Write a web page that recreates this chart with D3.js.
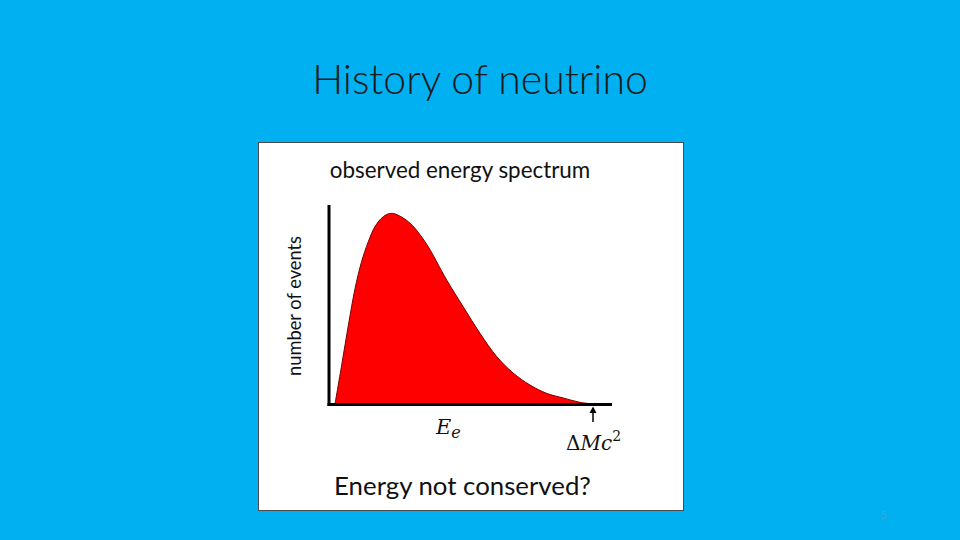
<!DOCTYPE html>
<html>
<head>
<meta charset="utf-8">
<script src="https://d3js.org/d3.v7.min.js"></script>
<style>
  body { margin: 0; background: #00B0F0; }
  svg { display: block; }
</style>
</head>
<body>
<div id="slide"></div>
<script>
// spectrum: energy as fraction of the endpoint, counts normalised to the peak
var energy = [0, 0.026, 0.052, 0.078, 0.103, 0.129, 0.155, 0.187, 0.220, 0.284, 0.349, 0.433, 0.497, 0.562, 0.627, 0.690, 0.756, 0.821, 0.884, 0.949, 1.0];
var counts = [0, 0.206, 0.417, 0.611, 0.751, 0.856, 0.936, 0.988, 1.006, 0.962, 0.856, 0.654, 0.513, 0.373, 0.250, 0.164, 0.100, 0.056, 0.032, 0.009, 0];

var title = "History of neutrino";
var chartTitle = "observed energy spectrum";
var yLabel = "number of events";
var caption = "Energy not conserved?";
var endpoint = 1.0;   // ΔMc²

var svg = d3.select('#slide')
            .append('svg')
            .attr('width', 960)
            .attr('height', 540);

svg.append('rect')
   .attr('width', 960).attr('height', 540)
   .attr('fill', '#00B0F0');

svg.append('text')
   .attr('x', 480).attr('y', 94)
   .attr('text-anchor', 'middle')
   .attr('font-family', 'Lato, sans-serif')
   .attr('font-weight', 300)
   .attr('font-size', 41)
   .attr('fill', '#1a1a1a')
   .text(title);

// white picture box
svg.append('rect')
   .attr('x', 258.5).attr('y', 142.5)
   .attr('width', 425).attr('height', 368)
   .attr('fill', '#fff')
   .attr('stroke', '#4a4a4a')
   .attr('stroke-width', 1);

var x = d3.scaleLinear().domain([0, 1]).range([335, 593]);
var y = d3.scaleLinear().domain([0, 1.05]).range([404, 205]);

var data = energy.map(function(e, i) { return {e: e, n: counts[i]}; });

var area = d3.area()
      .x(function(d) { return x(d.e); })
      .y0(y(0))
      .y1(function(d) { return y(d.n); })
      .curve(d3.curveCatmullRom);

var line = d3.line()
      .x(function(d) { return x(d.e); })
      .y(function(d) { return y(d.n); })
      .curve(d3.curveCatmullRom);

svg.append('path')
   .attr('fill', '#FF0000')
   .attr('d', area(data));

svg.append('path')
   .attr('fill', 'none')
   .attr('stroke', '#7a0000')
   .attr('stroke-width', 1)
   .attr('d', line(data));

// axes
svg.append('line')
   .attr('x1', 329).attr('x2', 329)
   .attr('y1', y(1.05)).attr('y2', 406)
   .attr('stroke', '#000').attr('stroke-width', 3);
svg.append('line')
   .attr('x1', 327.5).attr('x2', 612)
   .attr('y1', 404.5).attr('y2', 404.5)
   .attr('stroke', '#000').attr('stroke-width', 3);

// arrow at the endpoint
var ax = x(endpoint);
svg.append('line')
   .attr('x1', ax).attr('x2', ax)
   .attr('y1', 422).attr('y2', 412)
   .attr('stroke', '#000').attr('stroke-width', 1.5);
svg.append('path')
   .attr('d', 'M' + (ax - 3.5) + ',413 L' + ax + ',406.5 L' + (ax + 3.5) + ',413 Z')
   .attr('fill', '#000');

svg.append('text')
   .attr('x', 460).attr('y', 178)
   .attr('text-anchor', 'middle')
   .attr('font-family', 'Lato, sans-serif')
   .attr('font-size', 22.4)
   .attr('fill', '#111')
   .text(chartTitle);

svg.append('text')
   .attr('transform', 'translate(301,306) rotate(-90)')
   .attr('text-anchor', 'middle')
   .attr('font-family', 'Lato, sans-serif')
   .attr('font-size', 18.3)
   .attr('fill', '#111')
   .text(yLabel);

var ee = svg.append('text')
   .attr('x', 436).attr('y', 434)
   .attr('font-family', '"DejaVu Serif", serif')
   .attr('font-style', 'italic')
   .attr('font-size', 21)
   .attr('fill', '#111');
ee.append('tspan').text('E');
ee.append('tspan').attr('font-size', 16).attr('dy', 4).text('e');

var dm = svg.append('text')
   .attr('x', 566).attr('y', 450)
   .attr('font-family', '"DejaVu Serif", serif')
   .attr('font-size', 20)
   .attr('fill', '#111');
dm.append('tspan').text('Δ');
dm.append('tspan').attr('font-style', 'italic').text('Mc');
dm.append('tspan').attr('font-size', 14).attr('dy', -9).text('2');

svg.append('text')
   .attr('x', 462.5).attr('y', 495)
   .attr('text-anchor', 'middle')
   .attr('font-family', 'Lato, sans-serif')
   .attr('font-size', 25.8)
   .attr('fill', '#111')
   .text(caption);

svg.append('text')
   .attr('x', 883).attr('y', 519)
   .attr('text-anchor', 'middle')
   .attr('font-family', 'Lato, sans-serif')
   .attr('font-size', 11)
   .attr('fill', '#4aa0d0')
   .text('5');
</script>
</body>
</html>
